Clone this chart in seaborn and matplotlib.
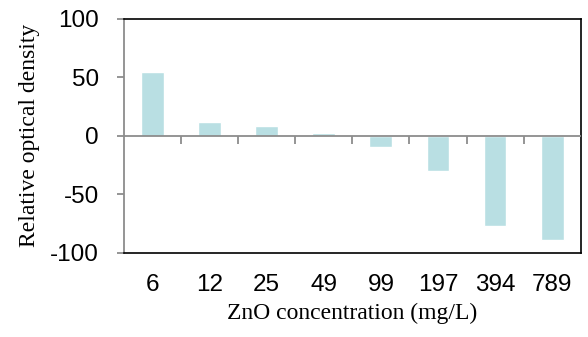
import matplotlib
matplotlib.use("Agg")
import matplotlib.pyplot as plt
import seaborn as sns
import pandas as pd

# ZnO concentrations (mg/L) and relative optical density
concentrations = ["6", "12", "25", "49", "99", "197", "394", "789"]
density = [54, 11.5, 8, 2, -9.5, -30, -77, -89]
y_ticks = [-100, -50, 0, 50, 100]

df = pd.DataFrame({"conc": concentrations, "density": density})

sns.set_theme(style="white")
plt.rcParams["font.family"] = ["Liberation Sans", "DejaVu Sans"]

fig = plt.figure(figsize=(5.88, 3.37), dpi=100)
ax = fig.add_axes([0.2109, 0.2493, 0.7767, 0.6958])

bar_color = "#B9DFE3"
sns.barplot(data=df, x="conc", y="density", order=concentrations,
            color=bar_color, saturation=1, width=0.4, ax=ax)

ax.set_ylim(-100, 100)
ax.set_xlim(-0.5, len(concentrations) - 0.5)
ax.set_yticks(y_ticks)
ax.set_yticklabels([str(v) for v in y_ticks])

grey = "#8C8C8C"
# zero line with category-boundary tick marks
ax.axhline(0, color=grey, lw=1.3, zorder=3)
ax.vlines([i + 0.5 for i in range(len(concentrations) - 1)], -6.8, 0,
          color=grey, lw=1.3, zorder=3)

for side in ["top", "right", "bottom"]:
    ax.spines[side].set_color("black")
    ax.spines[side].set_linewidth(1.2)
ax.spines["left"].set_color(grey)
ax.spines["left"].set_linewidth(1.3)

ax.tick_params(axis="y", which="major", left=True, length=5, width=1.3,
               color=grey, pad=13, labelsize=17.5, labelcolor="black")
ax.tick_params(axis="x", which="major", bottom=False, length=0, pad=15,
               labelsize=17.5, labelcolor="black")

ax.set_xlabel("ZnO concentration (mg/L)", family="Liberation Serif",
              fontsize=17, labelpad=5, color="black")
ax.set_ylabel("Relative optical density", family="Liberation Serif",
              fontsize=17, labelpad=7, color="black")

fig.savefig("out.png", dpi=100)
